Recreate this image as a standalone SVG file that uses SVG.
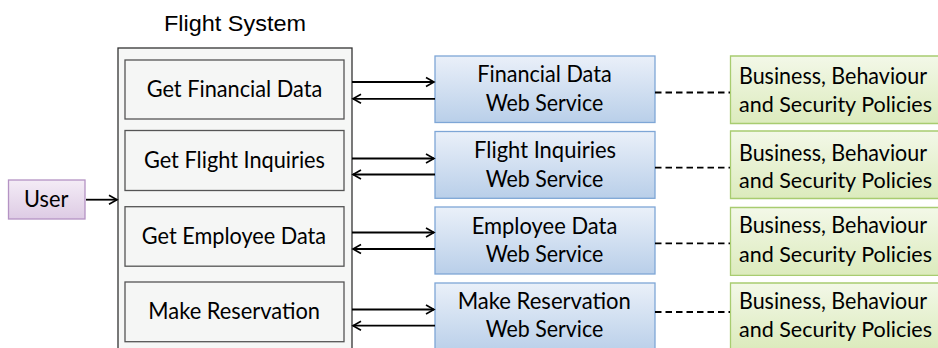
<svg xmlns="http://www.w3.org/2000/svg" width="938" height="348" viewBox="0 0 938 348">
<defs>
<linearGradient id="gBlue" x1="0" y1="0" x2="0" y2="1"><stop offset="0" stop-color="#eaf0f9"/><stop offset="1" stop-color="#b9cfe9"/></linearGradient>
<linearGradient id="gGreen" x1="0" y1="0" x2="0" y2="1"><stop offset="0" stop-color="#f3f8e8"/><stop offset="1" stop-color="#dcebbd"/></linearGradient>
<linearGradient id="gPurple" x1="0" y1="0" x2="0" y2="1"><stop offset="0" stop-color="#f4ecf6"/><stop offset="1" stop-color="#ddcbe4"/></linearGradient>
<marker id="arr" markerWidth="12" markerHeight="12" refX="9" refY="6" orient="auto" markerUnits="userSpaceOnUse">
<path d="M1,1.5 L9,6 L1,10.5" fill="none" stroke="#000" stroke-width="1.6"/>
</marker>
<style>
text{font-family:Lato,"Open Sans","Liberation Sans",sans-serif;font-size:23px;fill:#000;text-anchor:middle}
.title{font-family:"Liberation Sans",Arial,sans-serif;font-size:22px}
.outer{fill:#f6f7f6;stroke:#333;stroke-width:1.3}
.op{fill:#f5f6f5;stroke:#555;stroke-width:1.3}
.ws{fill:url(#gBlue);stroke:#7ea6d6;stroke-width:1.3}
.polf{fill:url(#gGreen);stroke:none}
.pols{fill:none;stroke:#a8cc70;stroke-width:1.3}
.usr{fill:url(#gPurple);stroke:#b493c4;stroke-width:1.3}
.pt{text-anchor:start;font-size:22.5px}
.pt2{text-anchor:start;font-size:21.3px}
.a{stroke:#000;stroke-width:1.8;fill:none;marker-end:url(#arr)}
.d{stroke:#000;stroke-width:1.8;fill:none;stroke-dasharray:6.5,4}
</style>
</defs>
<g id="flight-system">
<rect class="outer" x="118" y="48" width="234" height="310"/>
<text class="title" x="235" y="30.5" textLength="142" lengthAdjust="spacingAndGlyphs">Flight System</text>
</g>
<g id="op-financial"><rect class="op" x="125" y="60" width="219" height="59"/><text x="234.5" y="97.3" textLength="175.6" lengthAdjust="spacingAndGlyphs">Get Financial Data</text></g>
<g id="op-flight"><rect class="op" x="125" y="130.5" width="219" height="60"/><text x="234.5" y="168.3" textLength="181" lengthAdjust="spacingAndGlyphs">Get Flight Inquiries</text></g>
<g id="op-employee"><rect class="op" x="125" y="206.7" width="219" height="59.5"/><text x="234" y="244" textLength="184.3" lengthAdjust="spacingAndGlyphs">Get Employee Data</text></g>
<g id="op-reservation"><rect class="op" x="125" y="282" width="219" height="59.7"/><text x="234.2" y="319" textLength="171.7" lengthAdjust="spacingAndGlyphs">Make Reservation</text></g>
<g id="user"><rect class="usr" x="8.5" y="180" width="76.5" height="39"/><text x="46.2" y="207.3" textLength="44.3" lengthAdjust="spacingAndGlyphs">User</text></g>
<g id="ws-financial"><rect class="ws" x="435" y="56" width="220" height="66.5"/><text x="544.5" y="82.3" textLength="134.4" lengthAdjust="spacingAndGlyphs">Financial Data</text><text x="544.5" y="111" textLength="117.6" lengthAdjust="spacingAndGlyphs">Web Service</text></g>
<g id="ws-flight"><rect class="ws" x="435" y="131.5" width="220" height="66.8"/><text x="545" y="158.3" textLength="142" lengthAdjust="spacingAndGlyphs">Flight Inquiries</text><text x="544.5" y="186.7" textLength="117.6" lengthAdjust="spacingAndGlyphs">Web Service</text></g>
<g id="ws-employee"><rect class="ws" x="435" y="207" width="220" height="67"/><text x="544.5" y="234" textLength="145.6" lengthAdjust="spacingAndGlyphs">Employee Data</text><text x="544.5" y="262.3" textLength="117.6" lengthAdjust="spacingAndGlyphs">Web Service</text></g>
<g id="ws-reservation"><rect class="ws" x="435" y="283" width="220" height="70"/><text x="544.3" y="309" textLength="173.3" lengthAdjust="spacingAndGlyphs">Make Reservation</text><text x="544.5" y="337.3" textLength="117.6" lengthAdjust="spacingAndGlyphs">Web Service</text></g>
<g id="policy-1"><rect class="polf" x="730.5" y="56" width="207.5" height="67.5"/><path class="pols" d="M938,56H730.5V123.5H938"/><text class="pt" x="739" y="84.3" textLength="188" lengthAdjust="spacingAndGlyphs">Business, Behaviour</text><text class="pt2" x="739" y="112" textLength="193" lengthAdjust="spacingAndGlyphs">and Security Policies</text></g>
<g id="policy-2"><rect class="polf" x="730.5" y="131" width="207.5" height="67.5"/><path class="pols" d="M938,131H730.5V198.5H938"/><text class="pt" x="739" y="160.7" textLength="188" lengthAdjust="spacingAndGlyphs">Business, Behaviour</text><text class="pt2" x="739" y="187.7" textLength="193" lengthAdjust="spacingAndGlyphs">and Security Policies</text></g>
<g id="policy-3"><rect class="polf" x="730.5" y="207.5" width="207.5" height="67.8"/><path class="pols" d="M938,207.5H730.5V275.3H938"/><text class="pt" x="739" y="233.3" textLength="188" lengthAdjust="spacingAndGlyphs">Business, Behaviour</text><text class="pt2" x="739" y="262.3" textLength="193" lengthAdjust="spacingAndGlyphs">and Security Policies</text></g>
<g id="policy-4"><rect class="polf" x="730.5" y="283" width="207.5" height="65"/><path class="pols" d="M938,283H730.5V348"/><text class="pt" x="739" y="309.3" textLength="188" lengthAdjust="spacingAndGlyphs">Business, Behaviour</text><text class="pt2" x="739" y="337.3" textLength="193" lengthAdjust="spacingAndGlyphs">and Security Policies</text></g>
<g id="connectors">
<line class="a" x1="86" y1="199.7" x2="117" y2="199.7"/>
<line class="a" x1="352" y1="82" x2="434" y2="82"/>
<line class="a" x1="435" y1="98.8" x2="353" y2="98.8"/>
<line class="a" x1="352" y1="158.5" x2="434" y2="158.5"/>
<line class="a" x1="435" y1="174.5" x2="353" y2="174.5"/>
<line class="a" x1="352" y1="232.5" x2="434" y2="232.5"/>
<line class="a" x1="435" y1="249" x2="353" y2="249"/>
<line class="a" x1="352" y1="309.5" x2="434" y2="309.5"/>
<line class="a" x1="435" y1="325.7" x2="353" y2="325.7"/>
<line class="d" x1="655" y1="92.5" x2="730" y2="92.5"/>
<line class="d" x1="655" y1="167.7" x2="730" y2="167.7"/>
<line class="d" x1="655" y1="243.3" x2="730" y2="243.3"/>
<line class="d" x1="655" y1="312" x2="730" y2="312"/>
</g>
</svg>
